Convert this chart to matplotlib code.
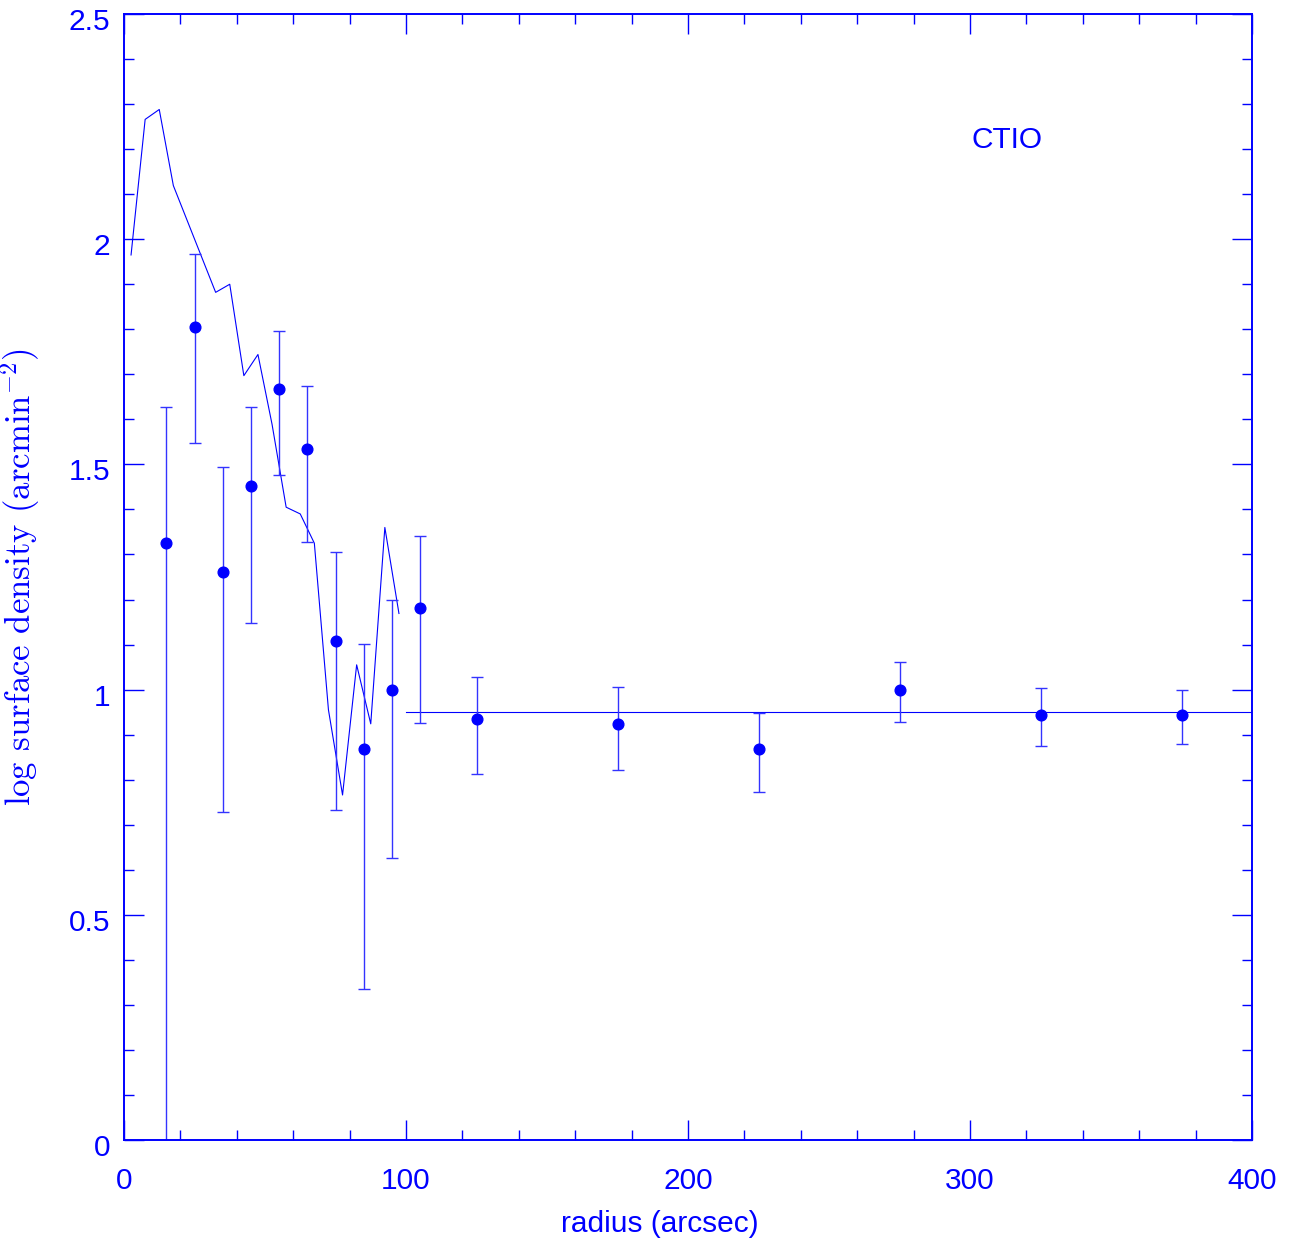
import matplotlib
matplotlib.use("Agg")
import matplotlib.pyplot as plt
import matplotlib.transforms as mtransforms
from matplotlib.ticker import MultipleLocator, FuncFormatter

# Model / profile line
line_r = [2.5, 7.5, 12.5, 17.5, 22.5, 27.5, 32.5, 37.5, 42.5, 47.5, 52.5, 57.5,
          62.5, 67.5, 72.5, 77.5, 82.5, 87.5, 92.5, 97.5]
line_logd = [1.965, 2.266, 2.288, 2.119, 2.040, 1.961, 1.882, 1.900, 1.697, 1.744,
             1.589, 1.405, 1.390, 1.325, 0.955, 0.766, 1.055, 0.924, 1.360, 1.169]

# Background level
bg_r = [100, 400]
bg_level = 0.951

# Data points with error bars
pts_r = [15, 25, 35, 45, 55, 65, 75, 85, 95, 105, 125, 175, 225, 275, 325, 375]
pts_logd = [1.325, 1.805, 1.261, 1.452, 1.667, 1.534, 1.108, 0.868, 0.999, 1.181,
            0.934, 0.924, 0.869, 1.000, 0.944, 0.944]
pts_upper = [1.627, 1.967, 1.494, 1.627, 1.796, 1.674, 1.305, 1.101, 1.199, 1.341,
             1.029, 1.006, 0.948, 1.061, 1.004, 1.000]
pts_lower = [-0.200, 1.548, 0.728, 1.148, 1.476, 1.328, 0.733, 0.335, 0.626, 0.926,
             0.813, 0.821, 0.773, 0.928, 0.874, 0.879]

blue = (0, 0, 1)
plt.rcParams['mathtext.fontset'] = 'cm'

fig = plt.figure(figsize=(12.97, 12.47), dpi=100)
ax = fig.add_axes([124 / 1297, 1 - 1140 / 1247, 1128 / 1297, 1126 / 1247])

ax.plot(line_r, line_logd, color=blue, lw=0.8)
ax.plot(bg_r, [bg_level, bg_level], color=blue, lw=0.8)

yerr = [[v - lo for v, lo in zip(pts_logd, pts_lower)],
        [hi - v for v, hi in zip(pts_logd, pts_upper)]]
ax.errorbar(pts_r, pts_logd, yerr=yerr, fmt='o', color=blue, ms=7.7,
            ecolor=(0.2, 0.2, 1.0), elinewidth=1.0, capsize=4, capthick=1.0)

ax.set_xlim(0, 400)
ax.set_ylim(0, 2.5)

ax.xaxis.set_major_locator(MultipleLocator(100))
ax.xaxis.set_minor_locator(MultipleLocator(20))
ax.yaxis.set_major_locator(MultipleLocator(0.5))
ax.yaxis.set_minor_locator(MultipleLocator(0.1))

def fmt(v, pos):
    return '%g' % round(v, 3)
ax.xaxis.set_major_formatter(FuncFormatter(fmt))
ax.yaxis.set_major_formatter(FuncFormatter(fmt))

for s in ax.spines.values():
    s.set_color(blue)
    s.set_linewidth(1.4)

ax.tick_params(which='both', direction='in', top=True, right=True, color=blue,
               labelcolor=blue, labelsize=21.5, width=1.0)
ax.tick_params(which='major', length=14.5)
ax.tick_params(which='minor', length=7.2)
ax.tick_params(axis='x', which='major', pad=14)
ax.tick_params(axis='y', which='major', pad=10)

dx_off = mtransforms.ScaledTranslation(0, -8 / 100, fig.dpi_scale_trans)
dy_off = mtransforms.ScaledTranslation(0, -5 / 100, fig.dpi_scale_trans)
for lab in ax.get_xticklabels():
    lab.set_fontfamily('Liberation Sans')
    lab.set_transform(lab.get_transform() + dx_off)
for lab in ax.get_yticklabels():
    lab.set_fontfamily('Liberation Sans')
    lab.set_transform(lab.get_transform() + dy_off)

ax.set_xlabel('radius (arcsec)', fontsize=21.5, color=blue,
              fontfamily='Liberation Sans')
ax.xaxis.set_label_coords((660 - 124) / 1128, -(1210 - 1140) / 1126)
ax.set_ylabel(r'log surface density (arcmin$^{-2}$)', fontsize=25, color=blue,
              fontfamily='cmr10')
ax.yaxis.set_label_coords((42 - 124) / 1128, (1140 - 577) / 1126)

ax.text(313, 2.22, 'CTIO', fontsize=21.5, color=blue, fontfamily='Liberation Sans',
        ha='center', va='center')

fig.savefig('out.png', dpi=100)
